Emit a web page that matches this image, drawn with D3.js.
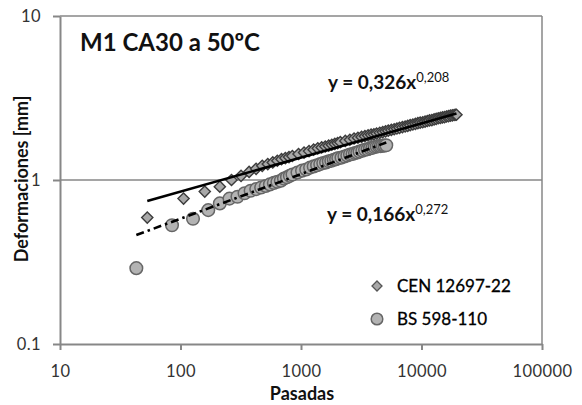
<!DOCTYPE html>
<html>
<head>
<meta charset="utf-8">
<script src="https://cdn.jsdelivr.net/npm/d3@7"></script>
<style>
  body { margin: 0; background: #fff; }
  svg { display: block; font-family: Lato, "Open Sans", sans-serif; }
</style>
</head>
<body>
<svg width="582" height="405"></svg>
<script>
// CEN 12697-22 (diamonds)
const cenPasadas = [53, 106, 159, 212, 265, 318, 371, 424, 477, 530, 583, 636, 689, 742, 795, 848, 954, 1060,
  1166, 1272, 1378, 1484, 1590, 1696, 1802, 1908, 2014, 2120, 2332, 2544, 2756, 2968, 3180, 3392, 3604, 3816,
  4028, 4240, 4505, 4770, 5035, 5300, 5618, 5936, 6254, 6572, 6943, 7314, 7685, 8056, 8480, 8904, 9328, 9752,
  10229, 10706, 11183, 11660, 12190, 12720, 13250, 13780, 14363, 14946, 15529, 16112, 16748, 17384, 18020,
  18656, 19080, 19504];
const cenDef = [0.59, 0.77, 0.85, 0.91, 1.00, 1.06, 1.12, 1.17, 1.22, 1.25, 1.28, 1.31, 1.34, 1.36, 1.38, 1.40, 1.44, 1.47,
  1.50, 1.53, 1.56, 1.58, 1.60, 1.62, 1.64, 1.66, 1.68, 1.70, 1.73, 1.76, 1.79, 1.81, 1.83, 1.85, 1.87, 1.89,
  1.90, 1.92, 1.94, 1.96, 1.98, 2.00, 2.02, 2.04, 2.06, 2.08, 2.10, 2.12, 2.14, 2.16, 2.18, 2.20, 2.22, 2.24,
  2.25, 2.27, 2.29, 2.31, 2.32, 2.34, 2.36, 2.38, 2.39, 2.41, 2.42, 2.44, 2.45, 2.47, 2.48,
  2.49, 2.50, 2.50];

// BS 598-110 (circles)
const bsPasadas = [43, 85, 127, 170, 212, 255, 297, 340, 382, 425, 467, 510, 552, 595, 637, 680, 722, 765, 808, 850,
  935, 1020, 1105, 1190, 1275, 1360, 1445, 1530, 1615, 1700, 1785, 1870, 1955, 2040, 2168, 2295, 2423, 2550,
  2678, 2805, 2933, 3060, 3230, 3400, 3570, 3740, 3910, 4080, 4250, 4420, 4590, 4760, 4930, 5100];
const bsDef = [0.29, 0.53, 0.58, 0.655, 0.72, 0.77, 0.79, 0.83, 0.86, 0.88, 0.90, 0.92, 0.94, 0.96, 0.975, 0.99, 1.02, 1.04, 1.06, 1.08,
  1.11, 1.14, 1.16, 1.19, 1.21, 1.23, 1.25, 1.27, 1.28, 1.30, 1.31, 1.33, 1.34, 1.36, 1.37, 1.39, 1.41, 1.43,
  1.44, 1.46, 1.47, 1.49, 1.51, 1.53, 1.54, 1.56, 1.57, 1.59, 1.60, 1.61, 1.61, 1.62, 1.62, 1.63];

// power-law trendlines y = a * x^b
const fitCoef = [0.326, 0.166];
const fitExp = [0.208, 0.272];
const fitLabels = ["y = 0,326x", "y = 0,166x"];
const fitExpLabels = ["0,208", "0,272"];

const xTicks = [10, 100, 1000, 10000, 100000];
const yTicks = [0.1, 1, 10];
const seriesNames = ["CEN 12697-22", "BS 598-110"];

const plot = { left: 60, right: 542, top: 16, bottom: 344 };
const axisColor = "#878787";

const svg = d3.select("svg");

const x = d3.scaleLog().domain([10, 100000]).range([plot.left, plot.right]);
const y = d3.scaleLog().domain([0.1, 10]).range([plot.bottom, plot.top]);

// gridlines at 1 and 10
svg.append("g")
  .selectAll("line")
  .data([1, 10])
  .join("line")
  .attr("x1", plot.left).attr("x2", plot.right)
  .attr("y1", d => y(d)).attr("y2", d => y(d))
  .attr("stroke", axisColor).attr("stroke-width", 1.5);

// right border
svg.append("line")
  .attr("x1", plot.right).attr("x2", plot.right)
  .attr("y1", plot.top).attr("y2", plot.bottom)
  .attr("stroke", axisColor).attr("stroke-width", 1.5);

// axes
const xAxis = svg.append("g")
  .attr("transform", `translate(0,${plot.bottom})`)
  .call(d3.axisBottom(x).tickValues(xTicks).tickFormat(d3.format("d")).tickSize(6).tickSizeOuter(0).tickPadding(15));

const yAxis = svg.append("g")
  .attr("transform", `translate(${plot.left},0)`)
  .call(d3.axisLeft(y).tickValues(yTicks).tickFormat(d => String(d)).tickSize(7).tickSizeOuter(0).tickPadding(12));

[xAxis, yAxis].forEach(g => {
  g.select(".domain").attr("stroke", axisColor).attr("stroke-width", 2);
  g.selectAll(".tick line").attr("stroke", axisColor).attr("stroke-width", 2);
  g.selectAll(".tick text")
    .attr("fill", "#333")
    .style("font-size", "16.5px")
    .style("letter-spacing", "0.4px")
    .style("font-family", "Lato, sans-serif");
});

// markers
const diamond = s => `M0,${-s}L${s},0L0,${s}L${-s},0Z`;

const cenData = cenPasadas.map((p, i) => ({ p: p, d: cenDef[i] }));
const bsData = bsPasadas.map((p, i) => ({ p: p, d: bsDef[i] }));

svg.append("g")
  .selectAll("path")
  .data(cenData)
  .join("path")
  .attr("transform", d => `translate(${x(d.p)},${y(d.d)})`)
  .attr("d", diamond(5.6))
  .attr("fill", "#a8a8a8")
  .attr("stroke", "#3c3c3c")
  .attr("stroke-width", 1.4);

svg.append("g")
  .selectAll("circle")
  .data(bsData)
  .join("circle")
  .attr("cx", d => x(d.p))
  .attr("cy", d => y(d.d))
  .attr("r", 6.3)
  .attr("fill", "#b3b3b3")
  .attr("stroke", "#666")
  .attr("stroke-width", 1.5);

// trendlines
const ranges = [
  [d3.min(cenPasadas), d3.max(cenPasadas)],
  [d3.min(bsPasadas), d3.max(bsPasadas)]
];
const line = d3.line().x(d => x(d[0])).y(d => y(d[1]));

ranges.forEach((r, i) => {
  const pts = r.map(v => [v, fitCoef[i] * Math.pow(v, fitExp[i])]);
  svg.append("path")
    .attr("d", line(pts))
    .attr("fill", "none")
    .attr("stroke", "#000")
    .attr("stroke-width", 2.6)
    .attr("stroke-dasharray", i === 0 ? null : "8,4,2.5,4");
});

// equations
const eqPos = [[328, 89], [327, 221]];
eqPos.forEach((pos, i) => {
  const t = svg.append("text")
    .attr("x", pos[0]).attr("y", pos[1])
    .attr("fill", "#111")
    .style("font-size", "19px")
    .style("font-weight", "bold");
  t.append("tspan").text(fitLabels[i]);
  t.append("tspan")
    .attr("dy", -7)
    .style("font-size", "13px")
    .style("font-weight", "normal")
    .text(fitExpLabels[i]);
});

// title
svg.append("text")
  .attr("x", 80).attr("y", 51)
  .attr("fill", "#111")
  .style("font-size", "24px")
  .style("font-weight", "bold")
  .text("M1 CA30 a 50ºC");

// axis titles
svg.append("text")
  .attr("x", 302).attr("y", 400)
  .attr("text-anchor", "middle")
  .attr("fill", "#111")
  .style("font-size", "18px")
  .style("font-weight", "bold")
  .text("Pasadas");

svg.append("text")
  .attr("transform", "translate(28,179) rotate(-90)")
  .attr("text-anchor", "middle")
  .attr("fill", "#111")
  .style("font-size", "18px")
  .style("font-weight", "bold")
  .text("Deformaciones [mm]");

// legend
const legend = svg.append("g");
const legY = [286, 319];
legend.append("path")
  .attr("transform", `translate(377,${legY[0]})`)
  .attr("d", diamond(5))
  .attr("fill", "#a8a8a8").attr("stroke", "#555").attr("stroke-width", 1.3);
legend.append("circle")
  .attr("cx", 377).attr("cy", legY[1]).attr("r", 5.8)
  .attr("fill", "#b3b3b3").attr("stroke", "#666").attr("stroke-width", 1.5);
legend.selectAll("text")
  .data(seriesNames)
  .join("text")
  .attr("x", 397)
  .attr("y", (d, i) => legY[i])
  .attr("dy", "0.35em")
  .attr("fill", "#000")
  .style("font-size", "17px")
  .style("stroke", "#000")
  .style("stroke-width", 0.3)
  .text(d => d);
</script>
</body>
</html>
